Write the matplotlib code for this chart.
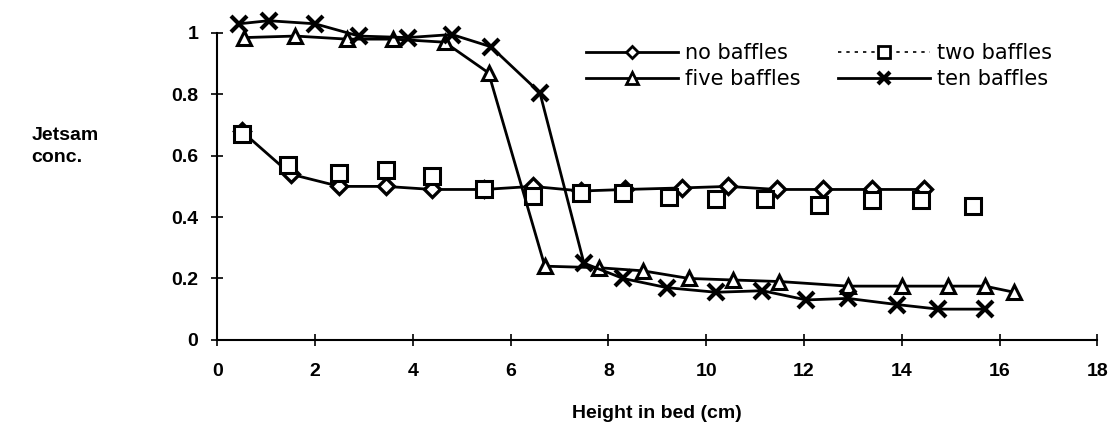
import matplotlib.pyplot as plt
import matplotlib as mpl
from matplotlib.lines import Line2D

mpl.rcParams.update({
    'font.family': ['Liberation Sans', 'DejaVu Sans'],
    'font.size': 12,
})

# data
x_none = [0.5, 1.5, 2.5, 3.45, 4.4, 5.45, 6.45, 7.45, 8.35, 9.5, 10.45, 11.45, 12.4, 13.4, 14.45]
y_none = [0.68, 0.54, 0.50, 0.50, 0.49, 0.49, 0.50, 0.485, 0.49, 0.495, 0.50, 0.49, 0.49, 0.49, 0.49]

x_two = [0.5, 1.45, 2.5, 3.45, 4.4, 5.45, 6.45, 7.45, 8.3, 9.25, 10.2, 11.2, 12.3, 13.4, 14.4, 15.45]
y_two = [0.67, 0.57, 0.545, 0.555, 0.535, 0.49, 0.47, 0.48, 0.48, 0.465, 0.46, 0.46, 0.44, 0.455, 0.455, 0.435]

x_five = [0.55, 1.6, 2.65, 3.6, 4.65, 5.55, 6.7, 7.8, 8.7, 9.65, 10.55, 11.5, 12.9, 14.0, 14.95, 15.7, 16.3]
y_five = [0.985, 0.99, 0.98, 0.98, 0.97, 0.87, 0.24, 0.235, 0.225, 0.20, 0.195, 0.19, 0.175, 0.175, 0.175, 0.175, 0.155]

x_ten = [0.45, 1.05, 2.0, 2.9, 3.9, 4.8, 5.6, 6.6, 7.5, 8.3, 9.2, 10.2, 11.15, 12.05, 12.9, 13.9, 14.75, 15.7]
y_ten = [1.03, 1.04, 1.03, 0.99, 0.985, 0.995, 0.955, 0.805, 0.25, 0.20, 0.17, 0.155, 0.16, 0.13, 0.135, 0.115, 0.10, 0.10]

x_ticks = [0, 2, 4, 6, 8, 10, 12, 14, 16, 18]
y_ticks = [0, 0.2, 0.4, 0.6, 0.8, 1]
y_ticklabels = ['0', '0.2', '0.4', '0.6', '0.8', '1']

fig = plt.figure(figsize=[11.14, 4.34], dpi=100)
ax = fig.add_axes([0.195, 0.217, 0.79, 0.707])

ax.plot(x_none, y_none, color='k', lw=2, marker='D', ms=8, mfc='white', mec='k', mew=2.4, clip_on=False)
ax.plot(x_two, y_two, ls='none', marker='s', ms=11, mfc='white', mec='k', mew=2.2, clip_on=False)
ax.plot(x_five, y_five, color='k', lw=2, marker='^', ms=10, mfc='white', mec='k', mew=2.2, clip_on=False)
ax.plot(x_ten, y_ten, color='k', lw=2, marker='x', ms=11, mec='k', mew=3, clip_on=False)

ax.set_xlim(0, 18)
ax.set_ylim(0, 1)
ax.set_xticks(x_ticks)
ax.set_yticks(y_ticks)
ax.set_yticklabels(y_ticklabels)
for s in ['top', 'right']:
    ax.spines[s].set_visible(False)
for s in ['left', 'bottom']:
    ax.spines[s].set_linewidth(1.5)
ax.tick_params(direction='inout', length=9, width=1.2, labelsize=14)
ax.tick_params(axis='x', pad=12)
ax.tick_params(axis='y', pad=9)
for lab in ax.get_xticklabels() + ax.get_yticklabels():
    lab.set_fontweight('bold')

ax.set_xlabel('Height in bed (cm)', fontsize=14, fontweight='bold', labelpad=18)
fig.text(0.028, 0.662, 'Jetsam\nconc.', fontsize=14, fontweight='bold', va='center', ha='left', linespacing=1.4)

handles = [
    Line2D([], [], color='k', lw=2, marker='D', ms=6, mfc='white', mec='k', mew=2),
    Line2D([], [], color='k', lw=1.2, ls=(0, (2, 3)), marker='s', ms=8, mfc='white', mec='k', mew=2),
    Line2D([], [], color='k', lw=2, marker='^', ms=8, mfc='white', mec='k', mew=2),
    Line2D([], [], color='k', lw=2, marker='x', ms=9, mec='k', mew=3),
]
labels = ['no baffles', 'two baffles', 'five baffles', 'ten baffles']
# legend is filled column by column: (no, five) then (two, ten)
ax.legend([handles[0], handles[2], handles[1], handles[3]],
          [labels[0], labels[2], labels[1], labels[3]],
          ncol=2, frameon=False, prop={'family': 'DejaVu Sans', 'size': 15},
          handlelength=4.4, handletextpad=0.35, columnspacing=1.8,
          labelspacing=0.3, borderpad=0,
          loc='upper left', bbox_to_anchor=(0.517, 0.925), bbox_transform=fig.transFigure)

fig.savefig('out.png', dpi=100)
